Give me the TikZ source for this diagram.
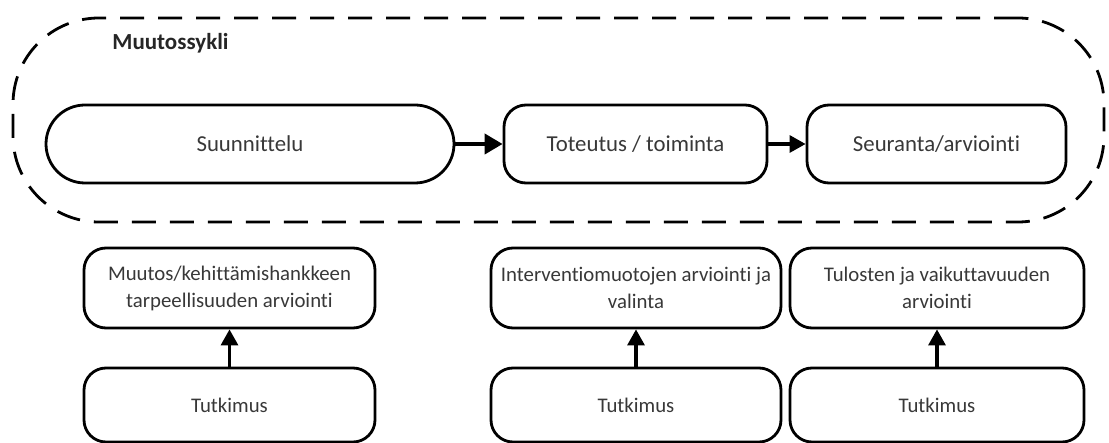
\documentclass[tikz,border=0pt]{standalone}
\usepackage{fontspec}
\setmainfont{Carlito}[Ligatures=NoCommon]
\usetikzlibrary{positioning,arrows.meta}
\tikzset{>=stealth}
\tikzset{
  vaihe/.style={draw,line width=1.4pt,rounded corners=11pt,align=center,
    text=black!78,font=\fontsize{11.4}{13.5}\selectfont,inner sep=0pt},
  pieni/.style={font=\fontsize{10.4}{13.5}\selectfont},
  kehys/.style={draw,line width=1.4pt,dash pattern=on 12pt off 7pt,
    rounded corners=43pt,inner sep=0pt},
  nuoli/.style={line width=1.6pt,-{Triangle[length=8pt,width=8.5pt]}}
}

\begin{document}
\begin{tikzpicture}[x=0.5pt,y=-0.5pt]
\useasboundingbox (0,0) rectangle (1109,443);
% muutossykli
\node[kehys,minimum width=545.5pt,minimum height=102pt] (sykli) at (558.5,120) {};
\node[anchor=west,font=\fontsize{11.5}{13.5}\selectfont\bfseries,text=black!85,inner sep=0pt] (otsikko) at (112,43) {Muutossykli};
\node[vaihe,rounded corners=19.5pt,minimum width=204pt,minimum height=39pt] (suunn) at (250,144) {Suunnittelu};
\node[vaihe,minimum width=131.5pt,minimum height=39pt] (toteut) at (635.5,144) {Toteutus / toiminta};
\node[vaihe,minimum width=129.5pt,minimum height=39pt] (seur) at (936.5,144) {Seuranta/arviointi};
\draw[line width=2pt,-{Triangle[length=9pt,width=10pt]}] (suunn) -- (toteut);
\draw[nuoli] (toteut) -- (seur);
% tutkimus
\node[vaihe,pieni,minimum width=145.5pt,minimum height=40pt] (tarve) at (229.5,288) {Muutos/kehittämishankkeen\\tarpeellisuuden arviointi};
\node[vaihe,pieni,minimum width=145pt,minimum height=40pt] (valinta) at (636,288) {Interventiomuotojen arviointi ja\\valinta};
\node[vaihe,pieni,minimum width=147pt,minimum height=40pt] (tulos) at (937,288) {Tulosten ja vaikuttavuuden\\arviointi};
\node[vaihe,pieni,minimum width=145.5pt,minimum height=37pt] (tutk1) at (229.5,405) {Tutkimus};
\node[vaihe,pieni,minimum width=145pt,minimum height=37pt] (tutk2) at (636,405) {Tutkimus};
\node[vaihe,pieni,minimum width=147pt,minimum height=37pt] (tutk3) at (937,405) {Tutkimus};
\draw[nuoli] (tutk1) -- (tarve);
\draw[nuoli] (tutk2) -- (valinta);
\draw[nuoli] (tutk3) -- (tulos);
\end{tikzpicture}
\end{document}
